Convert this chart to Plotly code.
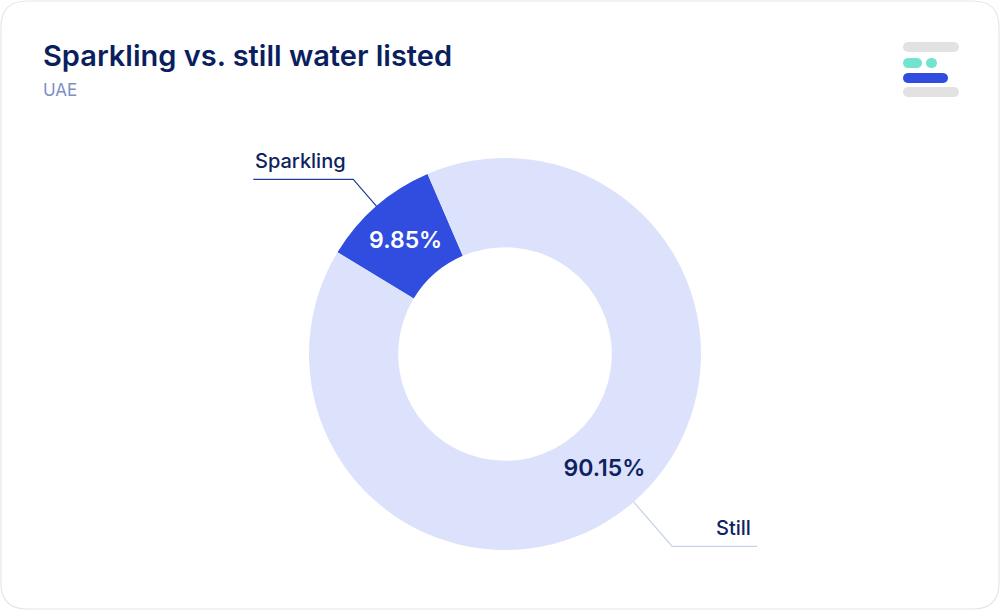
import math

import plotly.graph_objects as go

# dados
labels = ["Sparkling", "Still"]
shares = [9.85, 90.15]
slice_colors = ["#304ddf", "#dce2fb"]
text_colors = ["#ffffff", "#0e2260"]
line_colors = ["#24408f", "#c8d0ea"]

title = "Sparkling vs. still water listed"
subtitle = "UAE"

W, H = 1000, 610
CX, CY, R = 505, 354, 196
HOLE = 0.545
MID_ANGLE = 41  # centro da fatia Sparkling, graus anti-horário a partir do topo
ELBOW = [1.18, 1.3]  # distância do cotovelo das linhas de chamada (x raio)
RUN = [100, 85]      # trecho horizontal das linhas de chamada

FONT = "Inter, Lato, sans-serif"

fig = go.Figure()

# no plotly, com direção anti-horária a 1a fatia cobre [rotation, rotation + span] (horário)
total = sum(shares)
spans = [v / total * 360 for v in shares]
rotation = -(MID_ANGLE + spans[0] / 2)

fig.add_trace(go.Pie(
    labels=labels,
    values=shares,
    sort=False,
    direction="counterclockwise",
    rotation=rotation,
    hole=HOLE,
    marker=dict(colors=slice_colors, line=dict(width=0)),
    texttemplate="%{value:.2f}%",
    textposition="inside",
    insidetextorientation="horizontal",
    textfont=dict(family=FONT, size=23, color=text_colors, weight=600),
    hoverinfo="label+percent",
    showlegend=False,
    domain=dict(x=[(CX - R) / W, (CX + R) / W], y=[1 - (CY + R) / H, 1 - (CY - R) / H]),
))

# eixo auxiliar em pixels para moldura, linhas de chamada e logotipo
fig.add_trace(go.Scatter(x=[0, W], y=[0, H], mode="markers", marker=dict(opacity=0),
                         hoverinfo="skip", showlegend=False))

shapes = []
annotations = []

# moldura arredondada do cartão
k = 26
x0, y0, x1, y1 = 1, 1, W - 1, H - 1
shapes.append(dict(
    type="path", xref="x", yref="y", layer="below",
    path=(f"M{x0 + k},{y0} L{x1 - k},{y0} Q{x1},{y0} {x1},{y0 + k} L{x1},{y1 - k} "
          f"Q{x1},{y1} {x1 - k},{y1} L{x0 + k},{y1} Q{x0},{y1} {x0},{y1 - k} "
          f"L{x0},{y0 + k} Q{x0},{y0} {x0 + k},{y0} Z"),
    line=dict(color="#e3e6ee", width=1.2), fillcolor="rgba(0,0,0,0)",
))

# linhas de chamada calculadas a partir dos valores
a = rotation + spans[0]
for i, (lab, span) in enumerate(zip(labels, spans)):
    mid = a - span / 2  # graus horários a partir do topo
    a -= span
    th = math.radians(mid)
    px0, py0 = CX + R * math.sin(th), CY - R * math.cos(th)
    px1, py1 = CX + R * ELBOW[i] * math.sin(th), CY - R * ELBOW[i] * math.cos(th)
    side = 1 if math.sin(th) > 0 else -1
    px2 = px1 + side * RUN[i]
    shapes.append(dict(type="path", xref="x", yref="y",
                       path=f"M{px0},{py0} L{px1},{py1} L{px2},{py1}",
                       line=dict(color=line_colors[i], width=1.2)))
    annotations.append(dict(
        x=px2 if side < 0 else px2 - 4, y=py1 - 4, xref="x", yref="y",
        text=lab, showarrow=False,
        xanchor="left" if side < 0 else "right", yanchor="bottom",
        font=dict(family=FONT, size=20, color="#0e2260", weight=500),
    ))

# logotipo no canto superior direito
def pill(xa, xb, yc, h, color):
    r = h / 2
    return dict(type="path", xref="x", yref="y", line=dict(width=0), fillcolor=color,
                path=(f"M{xa + r},{yc - r} L{xb - r},{yc - r} C{xb + r * 0.33},{yc - r} {xb + r * 0.33},{yc + r} {xb - r},{yc + r} "
                      f"L{xa + r},{yc + r} C{xa - r * 0.33},{yc + r} {xa - r * 0.33},{yc - r} {xa + r},{yc - r} Z"))

shapes += [
    pill(903, 959, 47, 10, "#e2e2e2"),
    pill(903, 922, 63, 10, "#72e3cf"),
    pill(926, 937, 63, 10, "#72e3cf"),
    pill(903, 948, 78, 10, "#304ddf"),
    pill(903, 959, 92, 10, "#e2e2e2"),
]

# título e subtítulo
annotations += [
    dict(x=41, y=55, xref="x", yref="y", text=title, showarrow=False,
         xanchor="left", yanchor="middle",
         font=dict(family=FONT, size=29, color="#0b1f5e", weight=600)),
    dict(x=41, y=90, xref="x", yref="y", text=subtitle, showarrow=False,
         xanchor="left", yanchor="middle",
         font=dict(family=FONT, size=17, color="#7d8fc6")),
]

fig.update_layout(
    width=W, height=H,
    margin=dict(l=0, r=0, t=0, b=0),
    paper_bgcolor="#ffffff", plot_bgcolor="rgba(0,0,0,0)",
    xaxis=dict(range=[0, W], visible=False, fixedrange=True),
    yaxis=dict(range=[H, 0], visible=False, fixedrange=True),
    shapes=shapes, annotations=annotations,
    showlegend=False,
)

fig.write_html("out.html", config={"displayModeBar": False},
               post_script="document.body.style.margin='0';")
